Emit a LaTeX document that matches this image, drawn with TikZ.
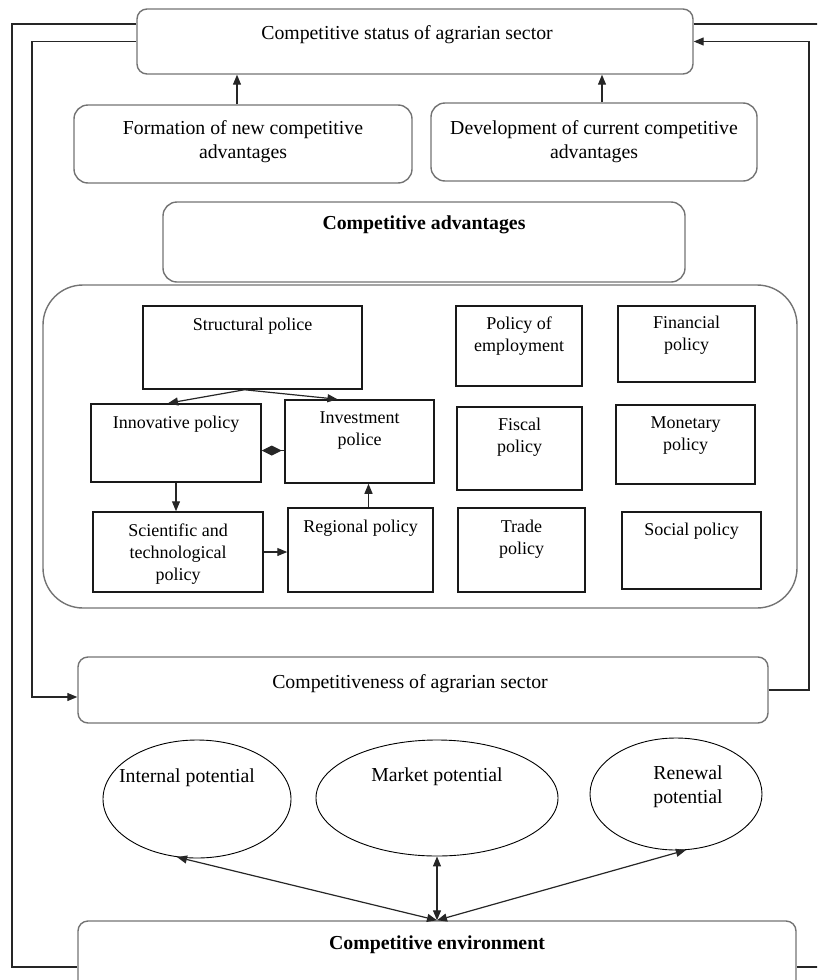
\documentclass[tikz,border=0pt]{standalone}
\usepackage{fontspec}
\setmainfont{Liberation Serif}
\usetikzlibrary{arrows.meta,shapes.geometric}

\newcommand{\headfnt}{\fontsize{19.8}{23.5}\selectfont}
\newcommand{\polfnt}{\fontsize{18}{22}\selectfont}

\begin{document}
\begin{tikzpicture}[x=1pt,y=-1pt,line width=1.2pt,
    rbox/.style={draw=black!55,line width=1.4pt,rounded corners=10pt,inner sep=0pt},
    pbox/.style={draw=black!90,line width=1.5pt,inner sep=0pt},
    oval/.style={draw,ellipse,line width=0.9pt,inner sep=0pt},
    txt/.style 2 args={label={[anchor=north,#1,inner sep=0pt,align=center,font=\headfnt]north:{#2}}},
    ptxt/.style 2 args={label={[anchor=north,#1,inner sep=0pt,align=center,font=\polfnt]north:{#2}}},
    arr/.style={draw=black!85,-{Triangle[length=10pt,width=8pt]}},
    dbl/.style={draw=black!85,{Triangle[length=10pt,width=8pt]}-{Triangle[length=10pt,width=8pt]}}]

    \useasboundingbox (0,0) rectangle (817,980);
    \clip (0,0) rectangle (817,980);

    \node[rbox,minimum width=556,minimum height=65,txt={yshift=-17pt,xshift=-8pt}{Competitive status of agrarian sector}] (status) at (415,41.5) {};
    \node[rbox,rounded corners=14pt,minimum width=338,minimum height=78,txt={yshift=-16pt}{Formation of new competitive\\advantages}] (form) at (243,144) {};
    \node[rbox,rounded corners=14pt,minimum width=326,minimum height=78,txt={yshift=-18pt}{Development of current competitive\\advantages}] (dev) at (594,142) {};
    \node[rbox,rounded corners=14pt,minimum width=522,minimum height=80,txt={yshift=-14pt}{\bfseries Competitive advantages}] (adv) at (424,242) {};

    \node[rbox,rounded corners=40pt,minimum width=754,minimum height=323] (pol) at (420,446.5) {};

    \node[pbox,minimum width=219,minimum height=83,ptxt={yshift=-12.5pt}{Structural police}] (struct) at (252.5,347.5) {};
    \node[pbox,minimum width=170,minimum height=78,ptxt={yshift=-12.5pt}{Innovative policy}] (inno) at (176,443) {};
    \node[pbox,minimum width=149,minimum height=83,ptxt={yshift=-11.5pt}{Investment\\police}] (inv) at (359.5,441.5) {};
    \node[pbox,minimum width=170,minimum height=80,ptxt={yshift=-11.5pt}{Scientific and\\technological\\policy}] (sci) at (178,552) {};
    \node[pbox,minimum width=145,minimum height=84,ptxt={yshift=-12.5pt}{Regional policy}] (reg) at (360.5,550) {};

    \node[pbox,minimum width=126,minimum height=80,ptxt={yshift=-10.5pt}{Policy of\\employment}] (emp) at (519,346) {};
    \node[pbox,minimum width=137,minimum height=76,ptxt={yshift=-10.5pt}{Financial\\policy}] (fin) at (686.5,344) {};
    \node[pbox,minimum width=125,minimum height=83,ptxt={yshift=-11.5pt}{Fiscal\\policy}] (fisc) at (519.5,448.5) {};
    \node[pbox,minimum width=139,minimum height=79,ptxt={yshift=-11.5pt}{Monetary\\policy}] (mon) at (685.5,444.5) {};
    \node[pbox,minimum width=127,minimum height=84,ptxt={yshift=-12.5pt}{Trade\\policy}] (trade) at (521.5,550) {};
    \node[pbox,minimum width=139,minimum height=77,ptxt={yshift=-11.5pt}{Social policy}] (soc) at (691.5,550.5) {};

    \node[rbox,minimum width=690,minimum height=66,txt={yshift=-18pt,xshift=-13pt}{Competitiveness of agrarian sector}] (comp) at (423,690) {};

    \node[oval,minimum width=188,minimum height=118,txt={yshift=-29pt,xshift=-10pt}{Internal potential}] (intp) at (197,799) {};
    \node[oval,minimum width=242,minimum height=116,txt={yshift=-28pt}{Market potential}] (mkt) at (437,798) {};
    \node[oval,minimum width=172,minimum height=112,txt={yshift=-28pt,xshift=12pt}{Renewal\\potential}] (ren) at (676,794) {};

    \node[rbox,minimum width=718,minimum height=92,txt={yshift=-15pt}{\bfseries Competitive environment}] (env) at (437,967) {};

    \coordinate (o1) at (12,24);
    \coordinate (o2) at (12,967);
    \coordinate (o3) at (825,24);
    \coordinate (o4) at (825,967);
    \coordinate (i1) at (32,41.5);
    \coordinate (i2) at (32,697);
    \coordinate (i3) at (809,690);

    \draw[black!85] (o1 -| status.west) -- (o1) -- (o2) -- (env.west);
    \draw[black!85] (o3 -| status.east) -- (o3) -- (o4) -- (env.east);
    \draw[arr] (status.west) -- (i1) -- (i2) -- (i2 -| comp.west);
    \draw[arr] (comp.east) -- (i3) |- (status.east);

    \draw[arr] ([xshift=-6pt]form.north) -- ([xshift=-6pt]form.north |- status.south);
    \draw[arr] ([xshift=8pt]dev.north) -- ([xshift=8pt]dev.north |- status.south);

    \draw[arr] ([xshift=-8pt]struct.south) -- ([xshift=-8pt]inno.north);
    \draw[arr] ([xshift=-8pt]struct.south) -- ([xshift=-22pt]inv.north);
    \draw[draw=black!85,-{Diamond[length=20pt,width=10pt]}] ([yshift=-9pt]inv.west) -- ([yshift=-9pt]inv.west -| inno.east);
    \draw[arr] (inno.south) -- (inno.south |- sci.north);
    \draw[arr] (sci.east) -- (sci.east -| reg.west);
    \draw[arr] ([xshift=8pt]reg.north) -- ([xshift=8pt]reg.north |- inv.south);

    \draw[dbl] (intp.-109) -- (env.north);
    \draw[dbl] (mkt.south) -- (env.north);
    \draw[dbl] (ren.-80) -- (env.north);

\end{tikzpicture}
\end{document}
